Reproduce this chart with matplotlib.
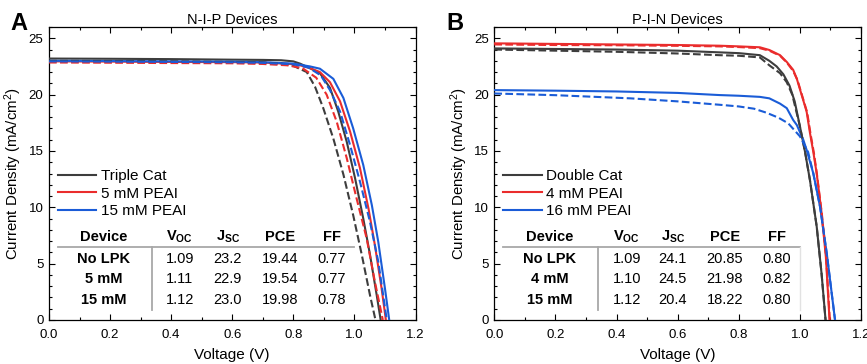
import matplotlib
matplotlib.use('Agg')
import matplotlib.pyplot as plt
from matplotlib.ticker import MultipleLocator

plt.rcParams['font.family'] = ['Liberation Sans', 'DejaVu Sans']
plt.rcParams['mathtext.fontset'] = 'custom'
plt.rcParams['mathtext.rm'] = 'Liberation Sans'
plt.rcParams['mathtext.bf'] = 'Liberation Sans:bold'
plt.rcParams['mathtext.it'] = 'Liberation Sans:italic'

GRAY = '#3d3d3d'
RED = '#ea2c2c'
BLUE = '#1a5cd7'

# ---------------- Panel A : N-I-P ----------------
a_black_solid_v = [0, 0.2, 0.4, 0.6, 0.7, 0.76, 0.8, 0.822, 0.85, 0.887, 0.92, 0.947, 0.975, 1.002, 1.029, 1.051, 1.073, 1.086]
a_black_solid_j = [23.2, 23.18, 23.15, 23.1, 23.08, 23.05, 22.95, 22.75, 22.4, 21.9, 20.6, 18.5, 15.8, 12.6, 9.0, 5.8, 2.2, 0]
a_black_dash_v = [0, 0.2, 0.4, 0.6, 0.7, 0.76, 0.8, 0.844, 0.871, 0.898, 0.931, 0.964, 0.996, 1.024, 1.051, 1.069]
a_black_dash_j = [23.0, 22.98, 22.95, 22.9, 22.85, 22.75, 22.55, 22.0, 20.7, 18.8, 16.1, 12.9, 9.3, 5.8, 2.2, 0]
a_red_solid_v = [0, 0.2, 0.4, 0.6, 0.7, 0.8, 0.822, 0.855, 0.887, 0.92, 0.953, 0.986, 1.018, 1.046, 1.067, 1.089, 1.103]
a_red_solid_j = [22.95, 22.93, 22.9, 22.88, 22.85, 22.7, 22.6, 22.35, 22.0, 21.1, 19.4, 16.7, 13.5, 9.9, 6.65, 2.8, 0]
a_red_dash_v = [0, 0.2, 0.4, 0.6, 0.7, 0.78, 0.83, 0.875, 0.909, 0.942, 0.975, 1.007, 1.04, 1.067, 1.093]
a_red_dash_j = [22.85, 22.83, 22.8, 22.78, 22.72, 22.6, 22.35, 21.5, 20.0, 17.6, 14.35, 10.8, 7.25, 3.4, 0]
a_blue_solid_v = [0, 0.2, 0.4, 0.6, 0.7, 0.8, 0.822, 0.855, 0.887, 0.931, 0.964, 0.996, 1.029, 1.057, 1.078, 1.100, 1.114]
a_blue_solid_j = [23.0, 22.98, 22.95, 22.92, 22.88, 22.75, 22.65, 22.5, 22.3, 21.4, 19.7, 17.0, 13.75, 10.2, 6.95, 2.8, 0]
a_blue_dash_v = [0, 0.2, 0.4, 0.6, 0.7, 0.8, 0.85, 0.89, 0.92, 0.953, 0.986, 1.018, 1.051, 1.078, 1.106]
a_blue_dash_j = [22.95, 22.93, 22.9, 22.87, 22.82, 22.7, 22.4, 21.7, 20.4, 18.5, 15.5, 12.3, 8.7, 5.2, 0]

a_title = 'N-I-P Devices'
a_legend = ['Triple Cat', '5 mM PEAI', '15 mM PEAI']
a_table_rows = [
    ['No LPK', '1.09', '23.2', '19.44', '0.77'],
    ['5 mM', '1.11', '22.9', '19.54', '0.77'],
    ['15 mM', '1.12', '23.0', '19.98', '0.78'],
]

# ---------------- Panel B : P-I-N ----------------
b_black_solid_v = [0, 0.2, 0.4, 0.6, 0.737, 0.8, 0.869, 0.9, 0.924, 0.946, 0.966, 0.983, 1.0, 1.017, 1.033, 1.055, 1.071, 1.084]
b_black_solid_j = [24.1, 24.05, 24.0, 23.9, 23.75, 23.68, 23.5, 23.0, 22.5, 21.8, 20.8, 19.4, 17.2, 14.9, 12.4, 8.3, 4.1, 0]
b_black_dash_v = [0, 0.2, 0.4, 0.6, 0.737, 0.8, 0.869, 0.9, 0.935, 0.957, 0.975, 1.0, 1.017, 1.033, 1.055, 1.071, 1.084]
b_black_dash_j = [24.0, 23.9, 23.8, 23.65, 23.5, 23.45, 23.3, 22.6, 21.9, 21.1, 20.0, 17.2, 14.9, 12.4, 8.3, 4.1, 0]
b_red_solid_v = [0, 0.2, 0.4, 0.6, 0.737, 0.8, 0.869, 0.9, 0.935, 0.957, 0.978, 0.99, 1.011, 1.022, 1.033, 1.044, 1.055, 1.071, 1.085, 1.097]
b_red_solid_j = [24.55, 24.5, 24.45, 24.4, 24.34, 24.28, 24.2, 23.96, 23.5, 22.9, 22.2, 21.4, 19.5, 18.5, 16.6, 14.9, 13.0, 9.5, 5.6, 0]
b_red_dash_v = [0, 0.2, 0.4, 0.6, 0.737, 0.8, 0.869, 0.9, 0.935, 0.957, 0.978, 0.992, 1.013, 1.024, 1.035, 1.046, 1.056, 1.072, 1.086, 1.098]
b_red_dash_j = [24.45, 24.4, 24.38, 24.33, 24.28, 24.22, 24.12, 23.9, 23.45, 22.85, 22.1, 21.3, 19.4, 18.4, 16.5, 14.8, 12.9, 9.4, 5.5, 0]
b_blue_solid_v = [0, 0.2, 0.4, 0.6, 0.737, 0.8, 0.869, 0.9, 0.935, 0.957, 0.978, 0.99, 1.011, 1.022, 1.044, 1.066, 1.088, 1.104, 1.115]
b_blue_solid_j = [20.4, 20.35, 20.28, 20.15, 19.96, 19.9, 19.8, 19.67, 19.2, 18.8, 17.75, 17.3, 16.0, 15.1, 13.0, 10.05, 5.9, 2.4, 0]
b_blue_dash_v = [0, 0.2, 0.445, 0.6, 0.737, 0.8, 0.85, 0.89, 0.93, 0.962, 1.0, 1.027, 1.044, 1.066, 1.088, 1.104, 1.115]
b_blue_dash_j = [20.1, 19.95, 19.67, 19.4, 19.1, 18.95, 18.75, 18.4, 17.95, 17.45, 16.3, 14.9, 13.0, 10.05, 5.9, 2.4, 0]

b_title = 'P-I-N Devices'
b_legend = ['Double Cat', '4 mM PEAI', '16 mM PEAI']
b_table_rows = [
    ['No LPK', '1.09', '24.1', '20.85', '0.80'],
    ['4 mM', '1.10', '24.5', '21.98', '0.82'],
    ['15 mM', '1.12', '20.4', '18.22', '0.80'],
]

table_header = ['Device', r'V$_{\mathregular{OC}}$', r'J$_{\mathregular{SC}}$', 'PCE', 'FF']

x_ticks = [0.0, 0.2, 0.4, 0.6, 0.8, 1.0, 1.2]
y_ticks = [0, 5, 10, 15, 20, 25]

fig = plt.figure(figsize=(8.67, 3.64), dpi=100)
W, H = 867, 364


def make_axes(left_px, right_px):
    return fig.add_axes([left_px / W, 1 - 320 / H, (right_px - left_px) / W, (320 - 27) / H])


axA = make_axes(49, 415.5)
axB = make_axes(494.3, 861)


def draw_panel(ax, curves, title, legend_labels, rows, col_x, line_x1):
    lw = 1.5
    handles = []
    for (v, j, color, ls) in curves:
        ln, = ax.plot(v, j, color=color, lw=lw, ls=ls, zorder=3)
        if ls == '-':
            handles.append(ln)
    ax.set_xlim(0, 1.2)
    ax.set_ylim(0, 26)
    ax.set_xticks(x_ticks)
    ax.set_xticklabels([f'{t:.1f}' for t in x_ticks])
    ax.set_yticks(y_ticks)
    ax.xaxis.set_minor_locator(MultipleLocator(0.1))
    ax.yaxis.set_minor_locator(MultipleLocator(1))
    ax.tick_params(which='both', direction='in', top=True, right=True, labelsize=9.5, width=0.8)
    ax.tick_params(which='major', length=4)
    ax.tick_params(which='minor', length=2)
    ax.tick_params(axis='x', pad=6.5)
    ax.tick_params(axis='y', pad=4)
    for s in ax.spines.values():
        s.set_linewidth(0.9)
    ax.set_title(title, fontsize=10.5, pad=2)
    ax.set_xlabel('Voltage (V)', fontsize=11, labelpad=5)
    ax.set_ylabel(r'Current Density (mA/cm$^{\mathregular{2}}$)', fontsize=10.8, labelpad=3)
    ax.legend(handles, legend_labels, loc='upper left', bbox_to_anchor=(0.025, 0.515),
              frameon=False, handlelength=2.5, handletextpad=0.3, labelspacing=0.24,
              fontsize=11, borderpad=0, borderaxespad=0)
    # table
    header_y = 0.284
    row_y = [0.208, 0.139, 0.068]
    for k, h in enumerate(table_header):
        ax.text(col_x[k], header_y, h, transform=ax.transAxes, ha='center', va='center',
                fontsize=10.5, fontweight='bold')
    for r, row in enumerate(rows):
        for k, cell in enumerate(row):
            ax.text(col_x[k], row_y[r], cell, transform=ax.transAxes, ha='center', va='center',
                    fontsize=10.5, fontweight='bold' if k == 0 else 'normal')
    ax.plot([0.025, line_x1], [0.250, 0.250], transform=ax.transAxes, color='#a8a8a8', lw=1.3, zorder=4)
    ax.plot([0.282, 0.282], [0.250, 0.034], transform=ax.transAxes, color='#a8a8a8', lw=1.3, zorder=4)
    return ax


draw_panel(axA,
           [(a_black_solid_v, a_black_solid_j, GRAY, '-'),
            (a_red_solid_v, a_red_solid_j, RED, '-'),
            (a_blue_solid_v, a_blue_solid_j, BLUE, '-'),
            (a_black_dash_v, a_black_dash_j, GRAY, '--'),
            (a_red_dash_v, a_red_dash_j, RED, '--'),
            (a_blue_dash_v, a_blue_dash_j, BLUE, '--')],
           a_title, a_legend, a_table_rows,
           [0.150, 0.357, 0.488, 0.630, 0.772], 0.832)

draw_panel(axB,
           [(b_black_solid_v, b_black_solid_j, GRAY, '-'),
            (b_red_solid_v, b_red_solid_j, RED, '-'),
            (b_blue_solid_v, b_blue_solid_j, BLUE, '-'),
            (b_black_dash_v, b_black_dash_j, GRAY, '--'),
            (b_red_dash_v, b_red_dash_j, RED, '--'),
            (b_blue_dash_v, b_blue_dash_j, BLUE, '--')],
           b_title, b_legend, b_table_rows,
           [0.152, 0.361, 0.487, 0.629, 0.770], 0.834)
axB.plot([0.834, 0.834], [0.250, 0.034], transform=axB.transAxes, color='#e2e2e2', lw=1.0, zorder=4)

fig.text(10 / W, 1 - 24 / H, 'A', fontsize=17, fontweight='bold', ha='left', va='center')
fig.text(446 / W, 1 - 24 / H, 'B', fontsize=17, fontweight='bold', ha='left', va='center')

fig.savefig('out.png', dpi=100)
